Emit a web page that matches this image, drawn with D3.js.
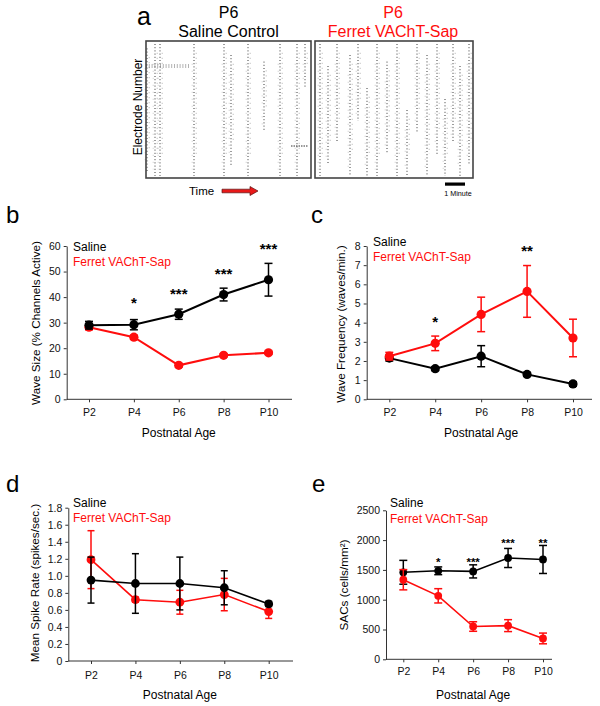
<!DOCTYPE html>
<html>
<head>
<meta charset="utf-8">
<script src="https://cdn.jsdelivr.net/npm/d3@7"></script>
<style>
body{margin:0;background:#fff;}
svg{display:block;}
</style>
</head>
<body>
<svg id="chart" width="600" height="706"></svg>
<script>
// ---------------- DATA ----------------
const ages = ["P2", "P4", "P6", "P8", "P10"];

// b: wave size (% channels active)
const waveSizeSaline = [29.0, 29.2, 33.3, 41.0, 46.8];
const waveSizeSalineErr = [1.5, 2.0, 2.0, 2.5, 6.4];
const waveSizeVAChT = [28.2, 24.3, 13.3, 17.2, 18.2];
const waveSizeVAChTErr = [1.0, 0.8, 0.7, 0.6, 0.6];
const waveSizeStars = ["", "*", "***", "***", "***"];
const waveSizeStarAt = [null, 38.9, 42.5, 50.6, 60.4];
const waveSizeTicks = [0, 10, 20, 30, 40, 50, 60];

// c: wave frequency (waves/min)
const waveFreqSaline = [2.15, 1.6, 2.25, 1.3, 0.8];
const waveFreqSalineErr = [0.15, 0.1, 0.55, 0.1, 0.12];
const waveFreqVAChT = [2.25, 2.92, 4.43, 5.63, 3.2];
const waveFreqVAChTErr = [0.2, 0.38, 0.9, 1.35, 0.98];
const waveFreqStars = ["", "*", "", "**", ""];
const waveFreqStarAt = [null, 4.23, null, 7.9, null];
const waveFreqTicks = [0, 1, 2, 3, 4, 5, 6, 7, 8];

// d: mean spike rate (spikes/sec)
const spikeSaline = [0.95, 0.91, 0.91, 0.86, 0.67];
const spikeSalineErr = [0.27, 0.35, 0.31, 0.2, 0.03];
const spikeVAChT = [1.19, 0.72, 0.69, 0.78, 0.58];
const spikeVAChTErr = [0.34, 0.03, 0.14, 0.19, 0.08];
const spikeTicks = [0, 0.2, 0.4, 0.6, 0.8, 1.0, 1.2, 1.4, 1.6, 1.8];

// e: SACs (cells/mm2)
const sacSaline = [1460, 1485, 1475, 1700, 1675];
const sacSalineErr = [200, 65, 110, 160, 235];
const sacVAChT = [1335, 1065, 550, 565, 350];
const sacVAChTErr = [170, 120, 80, 100, 90];
const sacStars = ["", "*", "***", "***", "**"];
const sacStarAt = [null, 1683, 1683, 1991, 1991];
const sacTicks = [0, 500, 1000, 1500, 2000, 2500];

// a: raster waves (time in minutes, electrode span 0-60)
const salineWaveTime  = [0.05, 0.45, 0.7, 2.4, 3.9, 4.25, 5.1, 5.9, 6.7, 7.55, 7.95];
const salineWaveFrom  = [2, 0, 0, 0, 0, 5, 0, 8, 0, 0, 0];
const salineWaveTo    = [58, 60, 60, 60, 60, 55, 60, 40, 60, 60, 20];
const ferretWaveTime  = [0.25, 0.65, 1.1, 1.75, 2.15, 2.6, 3.1, 3.6, 4.1, 4.6, 5.1, 5.6, 6.1, 6.5, 6.9, 7.25, 7.7];
const ferretWaveFrom  = [0, 10, 0, 5, 0, 20, 0, 8, 0, 30, 0, 5, 0, 25, 0, 10, 0];
const ferretWaveTo    = [60, 55, 45, 60, 35, 60, 60, 50, 60, 60, 40, 60, 50, 60, 45, 60, 55];

// ---------------- DRAW ----------------
const FONT = "'Liberation Sans', Arial, Helvetica, sans-serif";
const RED = "#ff0d0d";
const svg = d3.select("#chart").style("font-family", FONT);

function txt(x, y, s, size, opts = {}) {
  const t = svg.append("text").attr("x", x).attr("y", y).text(s)
    .attr("font-family", FONT)
    .attr("font-size", size).attr("fill", opts.fill || "#000")
    .attr("text-anchor", opts.anchor || "start");
  if (opts.weight) t.attr("font-weight", opts.weight);
  if (opts.rotate) t.attr("transform", `rotate(-90,${x},${y})`);
  return t;
}

// ---- panel a ----
txt(137, 25, "a", 25);
txt(228.5, 18, "P6", 16, {anchor: "middle"});
txt(228.5, 36.5, "Saline Control", 16, {anchor: "middle"});
txt(393, 18, "P6", 16, {anchor: "middle", fill: RED});
txt(393, 36.5, "Ferret VAChT-Sap", 16, {anchor: "middle", fill: RED});
txt(141.5, 107, "Electrode Number", 12, {anchor: "middle", rotate: true});

const elec = d3.scaleLinear().domain([0, 60]).range([44, 176]);
function raster(x0, x1, maxMin, times, from, to, extra) {
  const tx = d3.scaleLinear().domain([0, maxMin]).range([x0, x1]);
  const g = svg.append("g");
  g.selectAll("line.w").data(times).join("line")
    .attr("x1", d => tx(d)).attr("x2", d => tx(d))
    .attr("y1", (d, i) => elec(from[i])).attr("y2", (d, i) => elec(to[i]))
    .attr("stroke", "#3a3a3a").attr("stroke-width", 1)
    .attr("stroke-dasharray", "1,2.2");
  // fainter companion spikes next to each wave
  g.selectAll("line.f").data(times).join("line")
    .attr("x1", d => tx(d) + 2.2).attr("x2", d => tx(d) + 2.2)
    .attr("y1", (d, i) => elec(from[i] + 4)).attr("y2", (d, i) => elec(Math.max(from[i] + 4, to[i] - 10)))
    .attr("stroke", "#aaa").attr("stroke-width", 0.9)
    .attr("stroke-dasharray", "1,4");
  g.selectAll("line.h").data(times).join("line")
    .attr("x1", d => tx(d) - 1.8).attr("x2", d => tx(d) - 1.8)
    .attr("y1", (d, i) => elec(from[i] + 9)).attr("y2", (d, i) => elec(Math.max(from[i] + 9, to[i] - 3)))
    .attr("stroke", "#bbb").attr("stroke-width", 0.8)
    .attr("stroke-dasharray", "1,6");
  if (extra) extra(g, tx);
  g.append("rect").attr("x", x0).attr("y", 41).attr("width", x1 - x0).attr("height", 137)
    .attr("fill", "none").attr("stroke", "#444").attr("stroke-width", 1.6);
  return tx;
}
raster(146, 311, 8.25, salineWaveTime, salineWaveFrom, salineWaveTo, (g, tx) => {
  [65, 67].forEach(yy => g.append("line").attr("x1", tx(0)).attr("x2", tx(2.2)).attr("y1", yy).attr("y2", yy)
    .attr("stroke", "#555").attr("stroke-width", 0.9).attr("stroke-dasharray", "1,1.8"));
  g.append("line").attr("x1", tx(7.25)).attr("x2", tx(8.1)).attr("y1", 146).attr("y2", 146)
    .attr("stroke", "#333").attr("stroke-width", 1).attr("stroke-dasharray", "1.5,1");
});
const txR = raster(315, 473, 7.9, ferretWaveTime, ferretWaveFrom, ferretWaveTo);

// time arrow
txt(189, 195, "Time", 11.5);
svg.append("path")
  .attr("d", "M222,189.2 L250,189.2 L250,186.5 L258,191 L250,195.5 L250,192.8 L222,192.8 Z")
  .attr("fill", "#e81818").attr("stroke", "#5a1010").attr("stroke-width", 0.7);
// scale bar: 1 minute
svg.append("rect").attr("x", txR(6.5)).attr("y", 182.5).attr("width", txR(1) - txR(0)).attr("height", 3.2).attr("fill", "#000");
txt(txR(6.5) + 13, 196, "1 Minute", 7.2, {anchor: "middle"});

// ---- line panels ----
function linePanel(cfg) {
  const x = d3.scalePoint().domain(ages).range(cfg.xr);
  const y = d3.scaleLinear().domain([0, cfg.ymax]).range([cfg.y0, cfg.yTop]);
  const g = svg.append("g");
  // y axis
  const ya = g.append("g").attr("transform", `translate(${cfg.ax},0)`)
    .call(d3.axisLeft(y).tickValues(cfg.ticks).tickSize(3).tickSizeOuter(0).tickPadding(3).tickFormat(cfg.fmt || d3.format("d")));
  ya.selectAll("text").attr("font-size", 10.5).attr("font-family", FONT).attr("fill", "#111");
  ya.selectAll("line,path").attr("stroke", "#333");
  // x axis
  const xa = g.append("g").attr("transform", `translate(0,${cfg.y0})`)
    .call(d3.axisBottom(x).tickSize(3).tickPadding(cfg.xpad));
  xa.select(".domain").remove();
  xa.selectAll("text").attr("font-size", 10.5).attr("font-family", FONT).attr("fill", "#111");
  xa.selectAll("line").attr("stroke", "#333");
  g.append("line").attr("x1", cfg.ax).attr("x2", cfg.axEnd).attr("y1", cfg.y0).attr("y2", cfg.y0)
    .attr("stroke", "#333").attr("stroke-width", 1);
  // titles
  txt((cfg.xr[0] + cfg.xr[1]) / 2, cfg.xTitleY, "Postnatal Age", 12, {anchor: "middle"});
  txt(cfg.yTitleX, cfg.yTitleC, cfg.yTitle, 11.7, {anchor: "middle", rotate: true});
  txt(cfg.letter[1], cfg.letter[2], cfg.letter[0], 24);
  txt(cfg.legX, cfg.legY[0], "Saline", 12);
  txt(cfg.legX, cfg.legY[1], "Ferret VAChT-Sap", 12, {fill: RED});
  // series
  cfg.series.forEach(s => {
    const sg = g.append("g");
    sg.append("path").datum(s.v)
      .attr("d", d3.line().x((d, i) => x(ages[i])).y(d => y(d)))
      .attr("fill", "none").attr("stroke", s.c).attr("stroke-width", cfg.lw);
    s.v.forEach((v, i) => {
      const cx = x(ages[i]), e = s.e[i], hw = cfg.cap;
      const yt = y(v + e), yb = y(v - e);
      sg.append("line").attr("x1", cx).attr("x2", cx).attr("y1", yt).attr("y2", yb).attr("stroke", s.c).attr("stroke-width", 1.5);
      sg.append("line").attr("x1", cx - hw).attr("x2", cx + hw).attr("y1", yt).attr("y2", yt).attr("stroke", s.c).attr("stroke-width", 1.5);
      sg.append("line").attr("x1", cx - hw).attr("x2", cx + hw).attr("y1", yb).attr("y2", yb).attr("stroke", s.c).attr("stroke-width", 1.5);
    });
    sg.selectAll("circle").data(s.v).join("circle")
      .attr("cx", (d, i) => x(ages[i])).attr("cy", d => y(d)).attr("r", cfg.r).attr("fill", s.c);
  });
  // stars
  if (cfg.stars) {
    cfg.stars.forEach((s, i) => {
      if (!s) return;
      txt(x(ages[i]), y(cfg.starAt[i]) + 0.57 * cfg.starSize, s, cfg.starSize, {anchor: "middle", weight: "bold"});
    });
  }
}

linePanel({
  letter: ["b", 6, 223], xr: [89, 268.5], ax: 66.7, axEnd: 292, y0: 399.3, yTop: 246, ymax: 60,
  ticks: waveSizeTicks, xpad: 6.5, xTitleY: 437, yTitleX: 39.5, yTitleC: 323,
  yTitle: "Wave Size (% Channels Active)", legX: 73, legY: [251, 265.5], lw: 2, r: 4.6, cap: 4,
  series: [{v: waveSizeVAChT, e: waveSizeVAChTErr, c: RED}, {v: waveSizeSaline, e: waveSizeSalineErr, c: "#000"}],
  stars: waveSizeStars, starAt: waveSizeStarAt, starSize: 15
});
linePanel({
  letter: ["c", 311, 223], xr: [389.3, 573], ax: 366.7, axEnd: 592, y0: 399.3, yTop: 246, ymax: 8,
  ticks: waveFreqTicks, xpad: 6.5, xTitleY: 437, yTitleX: 344.5, yTitleC: 324,
  yTitle: "Wave Frequency (waves/min.)", legX: 373, legY: [246, 261], lw: 2, r: 4.6, cap: 4,
  series: [{v: waveFreqSaline, e: waveFreqSalineErr, c: "#000"}, {v: waveFreqVAChT, e: waveFreqVAChTErr, c: RED}],
  stars: waveFreqStars, starAt: waveFreqStarAt, starSize: 15
});
linePanel({
  letter: ["d", 6, 492], xr: [91, 268.7], ax: 68.3, axEnd: 293, y0: 661, yTop: 507.7, ymax: 1.8,
  ticks: spikeTicks, fmt: d => d === 0 ? "0" : d.toFixed(1), xpad: 8, xTitleY: 699, yTitleX: 38.5, yTitleC: 583,
  yTitle: "Mean Spike Rate (spikes/sec.)", legX: 73, legY: [507, 522], lw: 1.6, r: 4.4, cap: 3.5,
  series: [{v: spikeVAChT, e: spikeVAChTErr, c: RED}, {v: spikeSaline, e: spikeSalineErr, c: "#000"}]
});
linePanel({
  letter: ["e", 312, 492], xr: [403.3, 543], ax: 386, axEnd: 552, y0: 659.3, yTop: 510.3, ymax: 2500,
  ticks: sacTicks, xpad: 5, xTitleY: 699, yTitleX: 347.5, yTitleC: 585,
  yTitle: "SACs (cells/mm²)", legX: 390, legY: [507, 523], lw: 1.6, r: 3.9, cap: 4,
  series: [{v: sacSaline, e: sacSalineErr, c: "#000"}, {v: sacVAChT, e: sacVAChTErr, c: RED}],
  stars: sacStars, starAt: sacStarAt, starSize: 11.5
});
</script>
</body>
</html>
